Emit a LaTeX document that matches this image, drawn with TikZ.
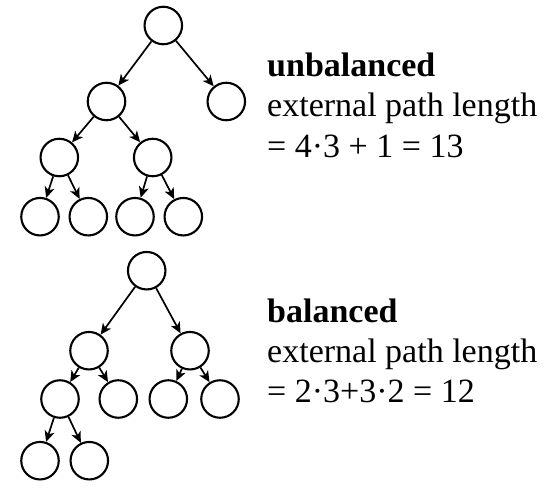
\documentclass[tikz,border=0pt]{standalone}
\usepackage{fontspec}
\setmainfont{Liberation Serif}
\usetikzlibrary{arrows.meta}
\begin{document}
\begin{tikzpicture}[x=1pt,y=-1pt,
  nd/.style={circle,draw,line width=2.1pt,minimum size=37.5pt,inner sep=0pt},
  ed/.style={line width=1.7pt,-{Stealth[length=11pt,width=10pt,inset=3pt]}},
  lbl/.style={anchor=base west,inner sep=0pt,font=\fontsize{34}{40}\selectfont}]
\useasboundingbox (0,0) rectangle (546,488);
% unbalanced tree
\node[nd] (a) at (163.3,25.5) {};
\node[nd] (b) at (106.5,101.5) {};
\node[nd] (c) at (226.3,101.5) {};
\node[nd] (d) at (59.3,157.5) {};
\node[nd] (e) at (152.7,157.5) {};
\node[nd] (f) at (40,216.7) {};
\node[nd] (g) at (88.3,216.7) {};
\node[nd] (h) at (135,216.7) {};
\node[nd] (i) at (183.3,216.7) {};
\draw[ed] (a) -- (b);
\draw[ed] (a) -- (c);
\draw[ed] (b) -- (d);
\draw[ed] (b) -- (e);
\draw[ed] (d) -- (f);
\draw[ed] (d) -- (g);
\draw[ed] (e) -- (h);
\draw[ed] (e) -- (i);
\node[lbl] (t1) at (267,76) {\textbf{unbalanced}};
\node[lbl] (t2) at (267,116) {external path length};
\node[lbl] (t3) at (267,157) {= 4·3 + 1 = 13};
% balanced tree
\node[nd] (A) at (146.7,270.7) {};
\node[nd] (B) at (89,350.7) {};
\node[nd] (C) at (190,350.7) {};
\node[nd] (D) at (60,399) {};
\node[nd] (E) at (118.3,399) {};
\node[nd] (F) at (168.3,399) {};
\node[nd] (G) at (220,399) {};
\node[nd] (H) at (40,460.7) {};
\node[nd] (I) at (89.3,460.7) {};
\draw[ed] (A) -- (B);
\draw[ed] (A) -- (C);
\draw[ed] (B) -- (D);
\draw[ed] (B) -- (E);
\draw[ed] (C) -- (F);
\draw[ed] (C) -- (G);
\draw[ed] (D) -- (H);
\draw[ed] (D) -- (I);
\node[lbl] (u1) at (267,322) {\textbf{balanced}};
\node[lbl] (u2) at (267,362) {external path length};
\node[lbl] (u3) at (267,402) {= 2·3+3·2 = 12};
\end{tikzpicture}
\end{document}
